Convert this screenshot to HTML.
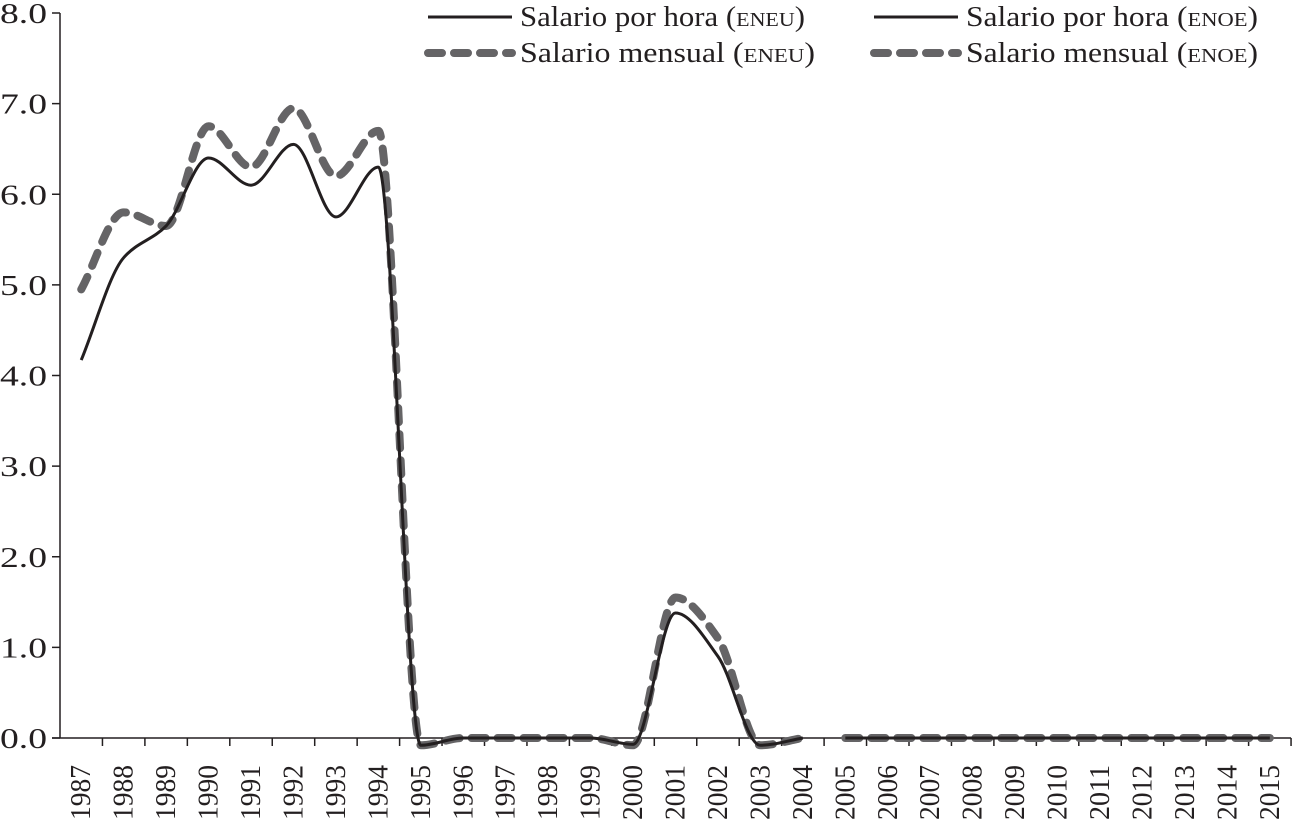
<!DOCTYPE html>
<html><head><meta charset="utf-8"><style>
body{margin:0;background:#fff}
svg text{font-family:"Liberation Serif",serif;fill:#231f20}
</style></head><body>
<svg width="1295" height="827" id="c"></svg>
<script>
const years=[1987,1988,1989,1990,1991,1992,1993,1994,1995,1996,1997,1998,1999,2000,2001,2002,2003,2004,2005,2006,2007,2008,2009,2010,2011,2012,2013,2014,2015];
const horaENEU=[4.17,5.3,5.65,6.4,6.1,6.55,5.75,6.3,-0.08,0,0,0,0,-0.07,1.38,0.9,-0.08,0];
const mensualENEU=[4.95,5.8,5.65,6.75,6.3,6.95,6.2,6.7,-0.08,0,0,0,0,-0.08,1.55,1.1,-0.08,0];
const horaENOE=[0,0,0,0,0,0,0,0,0,0,0];
const mensualENOE=[0,0,0,0,0,0,0,0,0,0,0];
const yTicks=[0,1,2,3,4,5,6,7,8];
const NS="http://www.w3.org/2000/svg";
const svg=document.getElementById('c');
const x0=60,step=42.45,yZero=738,yTop=13,yMax=8;
const X=i=>x0+step*(i+0.5);
const Y=v=>yZero-(v/yMax)*(yZero-yTop);
function mk(t,a,p){const e=document.createElementNS(NS,t);for(const k in a)e.setAttribute(k,a[k]);(p||svg).appendChild(e);return e;}
let ax=mk('line',{x1:x0,y1:yTop,x2:x0,y2:yZero,stroke:'#231f20','stroke-width':1.5});


let bx=mk('line',{x1:x0-8,y1:yZero,x2:x0+step*years.length,y2:yZero,stroke:'#231f20','stroke-width':1.5});


yTicks.forEach(v=>{
 const t=mk('line',{x1:x0-8,y1:Y(v),x2:x0,y2:Y(v),stroke:'#231f20','stroke-width':1.5});
 
 
 const l=mk('text',{x:x0-13,y:Y(v)+10,'text-anchor':'end','font-size':28,textLength:47,lengthAdjust:'spacingAndGlyphs'});
 l.textContent=v.toFixed(1);
 
 
});
years.forEach((yr,i)=>{
 const t=mk('line',{x1:x0+step*(i+1),y1:yZero,x2:x0+step*(i+1),y2:yZero+8,stroke:'#231f20','stroke-width':1.5});
 
 
 const l=mk('text',{transform:`translate(${X(i)+9},765) rotate(-90)`,'text-anchor':'end','font-size':28,textLength:55,lengthAdjust:'spacingAndGlyphs'});
 l.textContent=yr;
 
 
});
function path(vals,off){
 const p=vals.map((v,i)=>[X(i+off),Y(v)]);
 const n=p.length,h=step;
 const dl=[];for(let i=0;i<n-1;i++)dl.push((p[i+1][1]-p[i][1])/h);
 const m=[];
 for(let i=0;i<n;i++){
  if(i===0)m.push(dl[0]);else if(i===n-1)m.push(dl[n-2]);
  else if(dl[i-1]*dl[i]<=0)m.push(0);
  else m.push(2/(1/dl[i-1]+1/dl[i]));
 }
 let d=`M${p[0][0]},${p[0][1]}`;
 for(let i=0;i<n-1;i++){
  d+=` C${p[i][0]+h/3},${p[i][1]+m[i]*h/3} ${p[i+1][0]-h/3},${p[i+1][1]-m[i+1]*h/3} ${p[i+1][0]},${p[i+1][1]}`;
 }
 return d;
}
const dashStyle={fill:'none',stroke:'#656466','stroke-width':8,'stroke-dasharray':'14 12','stroke-linecap':'round'};
const solidStyle={fill:'none',stroke:'#231f20','stroke-width':3};
[[mensualENEU,0,dashStyle,'series-mensual-eneu'],[horaENEU,0,solidStyle,'series-hora-eneu'],[mensualENOE,18,dashStyle,'series-mensual-enoe'],[horaENOE,18,solidStyle,'series-hora-enoe']].forEach(s=>{
 const e=mk('path',Object.assign({d:path(s[0],s[1])},s[2]));
 
 
});
const leg=[[424,17,solidStyle,'Salario por hora (','eneu',')',285],[870,17,solidStyle,'Salario por hora (','enoe',')',292],[424,53,dashStyle,'Salario mensual (','eneu',')',295],[870,53,dashStyle,'Salario mensual (','enoe',')',292]];
leg.forEach(L=>{
 const g=mk('g',{});
 
 
 mk('line',Object.assign({x1:L[0]+4,y1:L[1],x2:L[0]+88,y2:L[1]},L[2]),g);
 const t=mk('text',{x:L[0]+96,y:L[1]+9,'font-size':28,textLength:L[6],lengthAdjust:'spacingAndGlyphs'},g);
 t.textContent=L[3];
 const s=mk('tspan',{'font-size':20},t);s.textContent=L[4].toUpperCase();
 const s2=mk('tspan',{},t);s2.textContent=L[5];
});
</script>
</body></html>
